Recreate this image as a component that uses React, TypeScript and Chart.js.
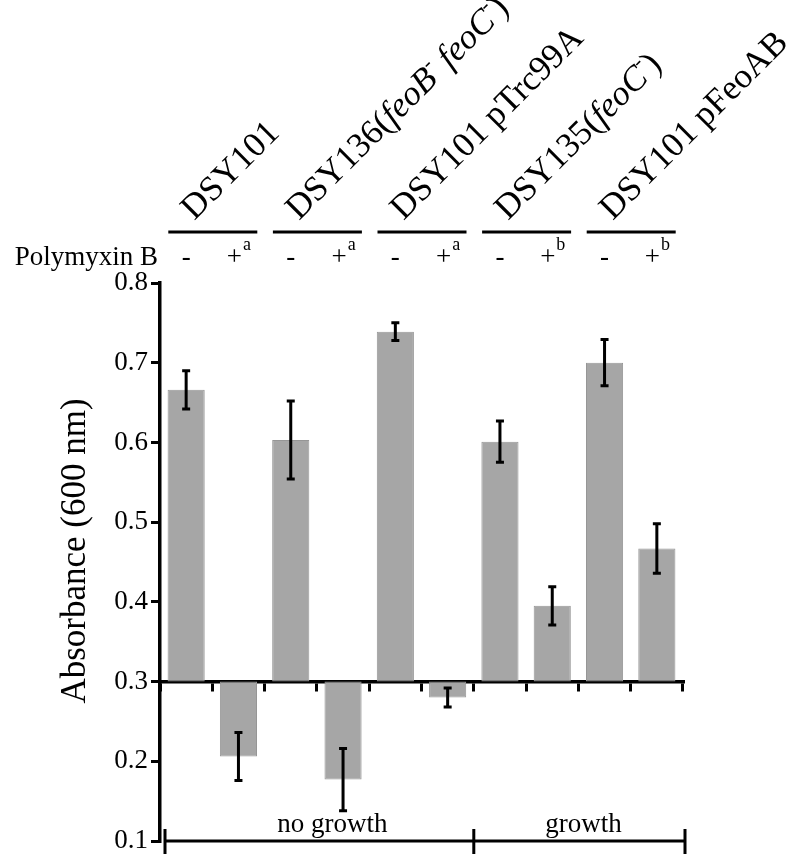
import React, { useEffect, useRef } from 'react';
import { Chart, registerables } from 'chart.js';

Chart.register(...registerables);

// ---------- data ----------
const categories = [
  'DSY101 -', 'DSY101 +',
  'DSY136 -', 'DSY136 +',
  'DSY101 pTrc99A -', 'DSY101 pTrc99A +',
  'DSY135 -', 'DSY135 +',
  'DSY101 pFeoAB -', 'DSY101 pFeoAB +',
];
const absorbance = [0.666, 0.206, 0.603, 0.177, 0.739, 0.280, 0.601, 0.395, 0.700, 0.467];
const errors = [0.024, 0.030, 0.049, 0.039, 0.011, 0.012, 0.026, 0.024, 0.029, 0.031];
const baseline = 0.3;
const yTicks = [0.1, 0.2, 0.3, 0.4, 0.5, 0.6, 0.7, 0.8];
const strainLabels = [
  'DSY101',
  'DSY136(<i>feoB</i><sup>-</sup> <i>feoC</i><sup>-</sup>)',
  'DSY101 pTrc99A',
  'DSY135(<i>feoC</i><sup>-</sup>)',
  'DSY101 pFeoAB',
];
const polymyxinSigns = ['-', '+', '-', '+', '-', '+', '-', '+', '-', '+'];
const polymyxinNotes = ['', 'a', '', 'a', '', 'a', '', 'b', '', 'b'];
const rowLabel = 'Polymyxin B';
const growthLabels = ['no growth', 'growth'];
const growthSpans = [[0, 6], [6, 10]];
const yTitle = 'Absorbance (600 nm)';

const FONT = '"Liberation Serif", "Times New Roman", serif';

type Part = { text: string; italic: boolean; sup: boolean };
function parseMarkup(s: string): Part[] {
  return s
    .split(/(<i>[^<]*<\/i>|<sup>[^<]*<\/sup>)/)
    .filter((p) => p.length > 0)
    .map((p) => {
      if (p.startsWith('<i>')) return { text: p.slice(3, -4), italic: true, sup: false };
      if (p.startsWith('<sup>')) return { text: p.slice(5, -6), italic: false, sup: true };
      return { text: p, italic: false, sup: false };
    });
}

function drawRich(ctx: CanvasRenderingContext2D, markup: string, x: number, y: number, size: number) {
  const parts = parseMarkup(markup);
  ctx.save();
  ctx.translate(x, y);
  ctx.rotate(-Math.PI / 4);
  ctx.textAlign = 'left';
  ctx.textBaseline = 'alphabetic';
  let cx = 0;
  for (const p of parts) {
    const fs = p.sup ? size * 0.6 : size;
    ctx.font = `${p.italic ? 'italic ' : ''}${fs}px ${FONT}`;
    ctx.fillText(p.text, cx, p.sup ? -size * 0.42 : 0);
    cx += ctx.measureText(p.text).width;
  }
  ctx.restore();
}

const errorBarPlugin = {
  id: 'errorBars',
  afterDatasetsDraw(chart: any) {
    const ctx = chart.ctx as CanvasRenderingContext2D;
    const meta = chart.getDatasetMeta(0);
    const y = chart.scales.y;
    ctx.save();
    ctx.strokeStyle = '#000';
    ctx.lineWidth = 3;
    ctx.lineCap = 'butt';
    meta.data.forEach((bar: any, i: number) => {
      const x = bar.x;
      const top = y.getPixelForValue(absorbance[i] + errors[i]);
      const bot = y.getPixelForValue(absorbance[i] - errors[i]);
      const cap = 4;
      ctx.beginPath();
      ctx.moveTo(x, top);
      ctx.lineTo(x, bot);
      ctx.moveTo(x - cap, top);
      ctx.lineTo(x + cap, top);
      ctx.moveTo(x - cap, bot);
      ctx.lineTo(x + cap, bot);
      ctx.stroke();
    });
    ctx.restore();
  },
};

const annotationPlugin = {
  id: 'annotations',
  afterDraw(chart: any) {
    const ctx = chart.ctx as CanvasRenderingContext2D;
    const xs = chart.scales.x;
    const ys = chart.scales.y;
    const area = chart.chartArea;
    const n = categories.length;
    const cw = (xs.right - xs.left) / n;
    const boundary = (i: number) => xs.left + i * cw;
    ctx.save();
    ctx.fillStyle = '#000';
    ctx.strokeStyle = '#000';

    // strain headers
    strainLabels.forEach((lab, g) => {
      const c = boundary(2 * g + 1);
      ctx.lineWidth = 3;
      ctx.beginPath();
      ctx.moveTo(c - 44, area.top - 51);
      ctx.lineTo(c + 45, area.top - 51);
      ctx.stroke();
      drawRich(ctx, lab, c - 18, area.top - 62, 35);
    });

    // Polymyxin row
    const rowY = area.top - 18;
    ctx.textBaseline = 'alphabetic';
    ctx.font = `27px ${FONT}`;
    ctx.textAlign = 'right';
    ctx.fillText(rowLabel, 158, rowY);
    ctx.textAlign = 'left';
    categories.forEach((_, i) => {
      const c = xs.getPixelForValue(i);
      ctx.font = `27px ${FONT}`;
      const ws = ctx.measureText(polymyxinSigns[i]).width;
      ctx.font = `18px ${FONT}`;
      const wn = ctx.measureText(polymyxinNotes[i]).width;
      const start = c - (ws + wn) / 2;
      ctx.font = `27px ${FONT}`;
      ctx.fillText(polymyxinSigns[i], start, rowY);
      if (polymyxinNotes[i]) {
        ctx.font = `18px ${FONT}`;
        ctx.fillText(polymyxinNotes[i], start + ws + 1, rowY - 15);
      }
    });

    // growth brackets
    const by = ys.getPixelForValue(0.1);
    ctx.lineWidth = 3;
    const bx0 = boundary(growthSpans[0][0]) + 5;
    const bxm = boundary(growthSpans[1][0]);
    const bx1 = boundary(growthSpans[1][1]) + 2;
    ctx.beginPath();
    ctx.moveTo(bx0, by);
    ctx.lineTo(bx1, by);
    [bx0, bxm, bx1].forEach((bx) => {
      ctx.moveTo(bx, by - 12);
      ctx.lineTo(bx, by + 13);
    });
    ctx.stroke();
    ctx.font = `27px ${FONT}`;
    ctx.textAlign = 'center';
    const c0 = (bx0 + bxm) / 2 + 13;
    const c1 = (bxm + bx1) / 2 + 4;
    ctx.fillText(growthLabels[0], c0, by - 9);
    ctx.fillText(growthLabels[1], c1, by - 9);

    // y title
    ctx.save();
    ctx.translate(85, (area.top + area.bottom) / 2 - 11);
    ctx.rotate(-Math.PI / 2);
    ctx.font = `35px ${FONT}`;
    ctx.textAlign = 'center';
    ctx.textBaseline = 'alphabetic';
    ctx.fillText(yTitle, 0, 0);
    ctx.restore();

    ctx.restore();
  },
};

export default function App() {
  const ref = useRef<HTMLCanvasElement | null>(null);
  useEffect(() => {
    if (!ref.current) return;
    const chart = new Chart(ref.current, {
      type: 'bar',
      data: {
        labels: categories,
        datasets: [
          {
            data: absorbance.map((v) => [baseline, v]) as any,
            backgroundColor: '#a6a6a6',
            borderColor: '#969696',
            borderWidth: 1,
            borderSkipped: false,
            barPercentage: 0.71,
            categoryPercentage: 1,
          },
        ],
      },
      options: {
        animation: false,
        responsive: false,
        devicePixelRatio: 1,
        layout: { padding: { left: 0, right: 117, top: 283, bottom: 27 } },
        plugins: { legend: { display: false }, tooltip: { enabled: false }, title: { display: false } },
        scales: {
          x: {
            type: 'category',
            position: { y: baseline } as any,
            offset: true,
            z: 1,
            grid: {
              offset: true,
              drawOnChartArea: false,
              drawTicks: true,
              tickLength: 8,
              color: '#000',
              lineWidth: 3,
            },
            border: { display: true, color: '#000', width: 3.5 },
            ticks: { display: false, autoSkip: false },
          },
          y: {
            min: 0.1,
            max: 0.8,
            afterBuildTicks: (s: any) => {
              s.ticks = yTicks.map((v) => ({ value: v }));
            },
            afterFit: (s: any) => {
              s.width = 160;
            },
            ticks: {
              color: '#000',
              padding: 3,
              font: { family: FONT, size: 27 },
              callback: (v: any) => Number(v).toFixed(1),
            },
            grid: { drawOnChartArea: false, tickLength: 9, color: '#000', lineWidth: 3 },
            border: { display: true, color: '#000', width: 3.5 },
          },
        },
      },
      plugins: [errorBarPlugin, annotationPlugin],
    });
    return () => chart.destroy();
  }, []);
  return (
    <div style={{ position: 'absolute', left: 0, top: 0, width: 800, height: 868, background: '#fff' }}>
      <canvas ref={ref} width={800} height={868} style={{ width: 800, height: 868, display: 'block' }} />
    </div>
  );
}
